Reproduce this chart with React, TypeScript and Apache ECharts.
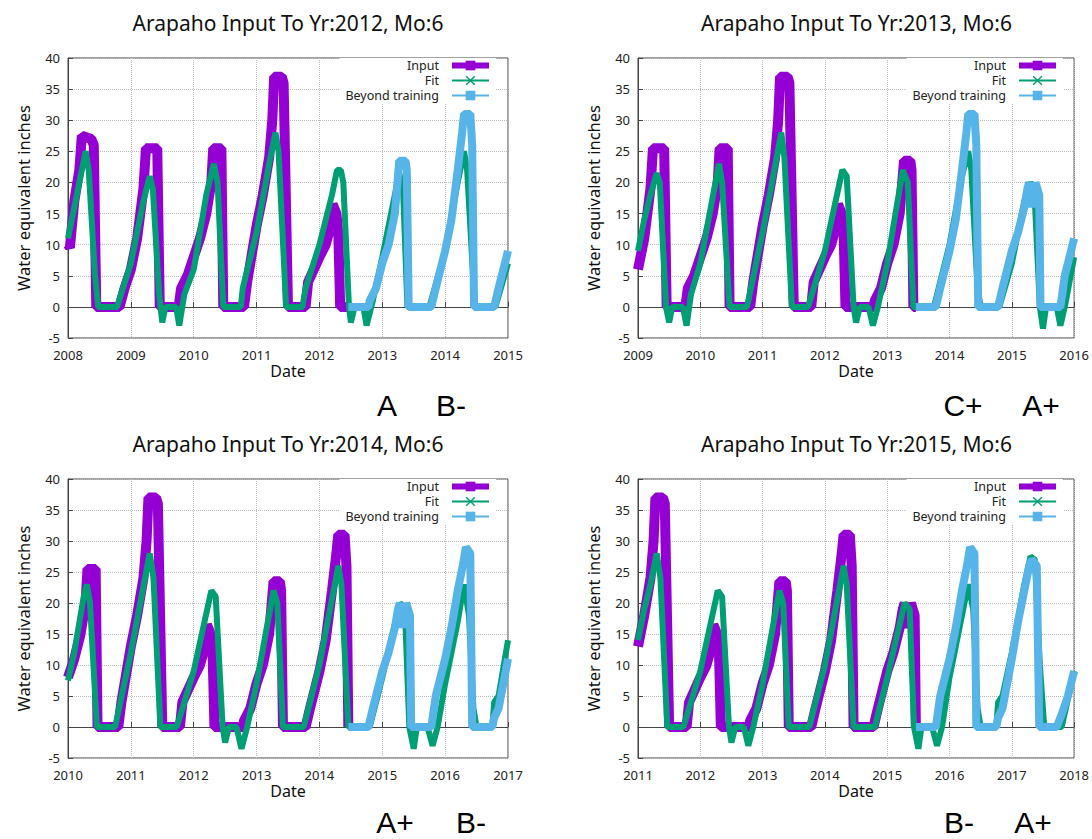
import React, { useEffect, useRef } from "react";
import * as echarts from "echarts";

// Observed snow-water-equivalent (shared by all panels)
const INPUT: [number, number][] = [
  [2008.0, 10], [2008.03, 9.5], [2008.1, 17], [2008.18, 22], [2008.22, 27.5], [2008.37, 27], [2008.41, 26], [2008.45, 0],
  [2008.82, 0], [2008.9, 3], [2009.0, 6], [2009.1, 11], [2009.15, 15], [2009.2, 19], [2009.24, 25.5], [2009.42, 25.5], [2009.46, 0],
  [2009.76, 0], [2009.8, 3], [2009.85, 4], [2009.9, 5], [2010.0, 8], [2010.1, 11], [2010.2, 15], [2010.28, 20], [2010.31, 25.5], [2010.44, 25.5], [2010.47, 0],
  [2010.8, 0], [2010.85, 4], [2011.0, 13], [2011.1, 18], [2011.2, 24], [2011.25, 30], [2011.28, 37], [2011.4, 37], [2011.43, 36], [2011.5, 0],
  [2011.78, 0], [2011.82, 4], [2012.0, 8], [2012.1, 10], [2012.18, 13], [2012.21, 16.5], [2012.27, 15], [2012.3, 12], [2012.33, 0],
  [2012.46, 0], [2012.78, 0], [2012.8, 1], [2012.9, 3], [2013.0, 7], [2013.1, 10], [2013.2, 15], [2013.27, 23.5], [2013.37, 23.5], [2013.39, 22], [2013.42, 0],
  [2013.46, 0], [2013.78, 0], [2013.85, 3], [2014.0, 9], [2014.1, 14], [2014.2, 22], [2014.27, 28], [2014.3, 31], [2014.4, 31], [2014.43, 26], [2014.46, 0],
  [2014.78, 0], [2014.85, 3], [2015.0, 9], [2015.1, 12], [2015.2, 16], [2015.25, 19], [2015.28, 20], [2015.33, 16], [2015.38, 20], [2015.44, 18], [2015.46, 0],
  [2015.78, 0], [2015.85, 5], [2016.0, 11], [2016.1, 16], [2016.2, 22], [2016.28, 26], [2016.33, 29], [2016.4, 28], [2016.43, 0],
  [2016.75, 0], [2016.78, 1.5], [2016.85, 3], [2017.0, 11], [2017.1, 17], [2017.2, 22], [2017.28, 26], [2017.32, 27], [2017.4, 26], [2017.44, 0],
  [2017.72, 0], [2017.8, 2], [2017.9, 5], [2018.0, 9],
];

// Model fits, one per training cut-off
const FIT_2012: [number, number][] = [
  [2008.0, 11], [2008.1, 16], [2008.2, 21], [2008.28, 25], [2008.33, 22], [2008.43, 5], [2008.48, 0],
  [2008.78, 0], [2009.0, 7], [2009.2, 17], [2009.3, 21], [2009.35, 19], [2009.45, 2], [2009.5, -2.5], [2009.55, 0],
  [2009.72, 0], [2009.77, -3], [2009.85, 2], [2010.0, 6], [2010.2, 18], [2010.32, 23], [2010.38, 20], [2010.47, 0],
  [2010.75, 0], [2010.78, 3], [2011.0, 12], [2011.2, 23], [2011.3, 28], [2011.35, 25], [2011.47, 0],
  [2011.73, 0], [2011.78, 3], [2012.0, 10], [2012.2, 18], [2012.28, 22], [2012.34, 22], [2012.38, 20], [2012.47, 0], [2012.5, -2.5], [2012.56, 0],
  [2012.7, 0], [2012.75, -3], [2012.85, 1], [2013.0, 8], [2013.2, 18], [2013.27, 21.5], [2013.33, 19], [2013.4, 0],
  [2013.75, 0], [2014.0, 9], [2014.2, 20], [2014.3, 25], [2014.35, 22], [2014.45, 4], [2014.48, 0],
  [2014.8, 0], [2015.0, 7],
];
const FIT_2013: [number, number][] = [
  [2009.0, 9], [2009.1, 14], [2009.2, 18], [2009.3, 21.5], [2009.35, 20], [2009.45, 0], [2009.5, -2.5], [2009.55, 0],
  [2009.72, 0], [2009.78, -3], [2009.85, 2], [2010.0, 7], [2010.3, 23], [2010.35, 20], [2010.47, 0],
  [2010.75, 0], [2011.0, 12], [2011.3, 28], [2011.35, 24], [2011.47, 0],
  [2011.73, 0], [2012.0, 9], [2012.28, 22], [2012.35, 21], [2012.46, 0], [2012.5, -2.5], [2012.56, 0],
  [2012.7, 0], [2012.77, -3], [2012.85, 0], [2013.0, 7], [2013.25, 22], [2013.33, 20], [2013.42, 0],
  [2013.75, 0], [2014.0, 10], [2014.2, 21], [2014.3, 25], [2014.35, 22], [2014.45, 3], [2014.5, 0],
  [2014.8, 0], [2015.0, 7], [2015.2, 17], [2015.3, 20], [2015.36, 19], [2015.45, 0], [2015.5, -3.5], [2015.55, 0],
  [2015.72, 0], [2015.78, -3], [2015.85, 0], [2016.0, 8],
];
const FIT_2014: [number, number][] = [
  [2010.0, 7.5], [2010.1, 12], [2010.25, 21], [2010.3, 23], [2010.35, 20], [2010.46, 0],
  [2010.75, 0], [2011.0, 12], [2011.3, 28], [2011.36, 24], [2011.47, 0],
  [2011.73, 0], [2012.0, 9], [2012.28, 22], [2012.35, 21], [2012.46, 0], [2012.5, -2.5], [2012.56, 0],
  [2012.68, 0], [2012.76, -3.5], [2012.85, 0], [2013.0, 7], [2013.27, 22], [2013.33, 20], [2013.42, 0],
  [2013.75, 0], [2014.0, 10], [2014.3, 26], [2014.35, 23], [2014.46, 0],
  [2014.8, 0], [2015.0, 8], [2015.28, 20], [2015.36, 19], [2015.43, 0], [2015.5, -3.5], [2015.55, 0],
  [2015.72, 0], [2015.8, -3], [2015.88, 0], [2016.0, 7], [2016.2, 17], [2016.3, 23], [2016.38, 18], [2016.45, 3], [2016.5, 0],
  [2016.75, 0], [2016.78, 4], [2016.85, 5], [2017.0, 14],
];
const FIT_2015: [number, number][] = [
  [2011.0, 14], [2011.1, 19], [2011.2, 23], [2011.3, 28], [2011.36, 24], [2011.47, 0],
  [2011.73, 0], [2012.0, 9], [2012.28, 22], [2012.35, 21], [2012.46, 0], [2012.5, -2.5], [2012.56, 0],
  [2012.7, 0], [2012.77, -3], [2012.85, 0], [2013.0, 7], [2013.27, 22], [2013.33, 20], [2013.42, 0],
  [2013.75, 0], [2014.0, 10], [2014.3, 26], [2014.35, 23], [2014.46, 0],
  [2014.8, 0], [2015.0, 8], [2015.28, 20], [2015.36, 19], [2015.43, 0], [2015.5, -3.5], [2015.55, 0],
  [2015.72, 0], [2015.8, -3], [2015.88, 0], [2016.0, 8], [2016.2, 18], [2016.3, 23], [2016.38, 19], [2016.45, 3], [2016.5, 0],
  [2016.75, 0], [2016.78, 4], [2016.85, 5], [2017.0, 12], [2017.2, 23], [2017.3, 27.5], [2017.37, 27], [2017.45, 10], [2017.52, 0],
  [2017.8, 0], [2018.0, 9],
];

const FITS = [FIT_2012, FIT_2013, FIT_2014, FIT_2015];
const PANEL_START = [2008, 2009, 2010, 2011];
const TRAIN_TO_YEAR = [2012, 2013, 2014, 2015];
const TRAIN_CUT = [2012.46, 2013.46, 2014.46, 2015.46];
const GRADES: string[][] = [["A", "B-"], ["C+", "A+"], ["A+", "B-"], ["B-", "A+"]];
const Y_TICKS_MIN = -5;
const Y_TICKS_MAX = 40;

const PURPLE = "#9400d3";
const GREEN = "#009e73";
const BLUE = "#56b4e9";
const FONT = "'Noto Sans', 'DejaVu Sans', sans-serif";

const GRIDS = [
  { left: 68, top: 58, width: 440, height: 280 },
  { left: 638, top: 58, width: 437, height: 280 },
  { left: 68, top: 479, width: 440, height: 279 },
  { left: 638, top: 479, width: 437, height: 279 },
];
const GRADE_X = [[387, 451], [963, 1041], [395, 471], [959, 1033]];
const GRADE_Y = [405, 405, 822, 822];

const X_PATH = "path://M0,1L1,0L5,4L9,0L10,1L6,5L10,9L9,10L5,6L1,10L0,9L4,5Z";

export default function App() {
  const ref = useRef<HTMLDivElement>(null);
  useEffect(() => {
    document.body.style.margin = "0";
    if (!ref.current) return;
    const chart = echarts.init(ref.current, null, { renderer: "svg" });

    const titles: any[] = [];
    const xAxes: any[] = [];
    const yAxes: any[] = [];
    const series: any[] = [];
    const legends: any[] = [];
    const graphics: any[] = [];

    GRIDS.forEach((g, i) => {
      const start = PANEL_START[i];
      const end = start + 7;
      const cut = TRAIN_CUT[i];
      const inRange = INPUT.filter((p) => p[0] >= start && p[0] <= end);
      const train = inRange.filter((p) => p[0] <= cut);
      const beyond = inRange.filter((p) => p[0] >= cut);

      titles.push({
        text: `Arapaho Input To Yr:${TRAIN_TO_YEAR[i]}, Mo:6`,
        left: g.left + g.width / 2,
        textAlign: "center",
        top: g.top - 46,
        padding: 0,
        textStyle: { fontSize: 21, fontWeight: "normal", color: "#111", fontFamily: FONT },
      });

      xAxes.push({
        type: "value",
        gridIndex: i,
        min: start,
        max: end,
        interval: 1,
        name: "Date",
        nameLocation: "middle",
        nameGap: 25,
        nameTextStyle: { fontSize: 16, color: "#111", fontFamily: FONT },
        axisLine: { show: true, lineStyle: { color: "#444" } },
        axisTick: { show: true, inside: true, length: 5, lineStyle: { color: "#444" } },
        axisLabel: { fontSize: 13, color: "#222", margin: 10, fontFamily: FONT, formatter: (v: number) => String(v) },
        splitLine: { show: true, lineStyle: { type: "dotted", color: "#bbb", width: 1 } },
      });
      yAxes.push({
        type: "value",
        gridIndex: i,
        min: Y_TICKS_MIN,
        max: Y_TICKS_MAX,
        interval: 5,
        name: "Water equivalent inches",
        nameLocation: "middle",
        nameGap: 36,
        nameTextStyle: { fontSize: 16.5, color: "#111", fontFamily: FONT },
        axisLine: { show: true, lineStyle: { color: "#444" } },
        axisTick: { show: true, inside: true, length: 5, lineStyle: { color: "#444" } },
        axisLabel: { fontSize: 13, color: "#222", margin: 8, fontFamily: FONT },
        splitLine: { show: true, lineStyle: { type: "dotted", color: "#bbb", width: 1 } },
      });

      series.push({
        name: "Input",
        type: "line",
        xAxisIndex: i,
        yAxisIndex: i,
        data: train,
        symbol: "rect",
        showSymbol: false,
        silent: true,
        lineStyle: { color: PURPLE, width: 10, join: "bevel" },
        itemStyle: { color: PURPLE },
      });
      series.push({
        name: "Fit",
        type: "line",
        xAxisIndex: i,
        yAxisIndex: i,
        data: FITS[i],
        symbol: X_PATH,
        showSymbol: false,
        silent: true,
        lineStyle: { color: GREEN, width: 6, join: "bevel" },
        itemStyle: { color: GREEN },
      });
      series.push({
        name: "Beyond training",
        type: "line",
        xAxisIndex: i,
        yAxisIndex: i,
        data: beyond,
        symbol: "rect",
        showSymbol: false,
        silent: true,
        lineStyle: { color: BLUE, width: 8, join: "bevel" },
        itemStyle: { color: BLUE },
      });

      legends.push({
        orient: "vertical",
        right: 1092 - (g.left + g.width) + 12,
        top: g.top,
        align: "right",
        itemWidth: 37,
        itemHeight: 12,
        itemGap: 2,
        padding: [1, 4, 2, 6],
        backgroundColor: "#fff",
        selectedMode: false,
        textStyle: { fontSize: 12.5, lineHeight: 12, color: "#222", fontFamily: FONT, padding: [0, 8, 0, 0] },
        data: [
          { name: "Input", lineStyle: { width: 6 } },
          { name: "Fit", lineStyle: { width: 2 } },
          { name: "Beyond training", lineStyle: { width: 2 } },
        ],
      });

      GRADES[i].forEach((gr, k) => {
        graphics.push({
          type: "text",
          x: GRADE_X[i][k],
          y: GRADE_Y[i],
          style: {
            text: gr,
            fill: "#000",
            fontSize: 30,
            fontFamily: "'Liberation Sans', Arial, sans-serif",
            align: "center",
            verticalAlign: "middle",
            textAlign: "center",
            textVerticalAlign: "middle",
          },
        });
      });
    });

    chart.setOption({
      animation: false,
      backgroundColor: "#fff",
      title: titles,
      grid: GRIDS.map((g) => ({ ...g, show: true, borderColor: "#444", borderWidth: 1, backgroundColor: "transparent" })),
      xAxis: xAxes,
      yAxis: yAxes,
      legend: legends,
      series,
      graphic: graphics,
    });
    return () => chart.dispose();
  }, []);
  return <div ref={ref} style={{ position: "absolute", left: 0, top: 0, width: 1092, height: 839 }} />;
}
